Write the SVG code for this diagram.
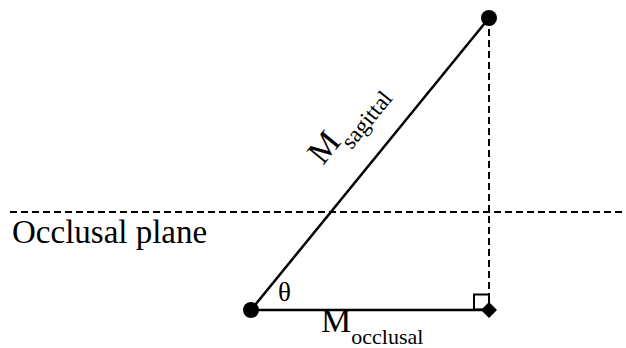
<svg xmlns="http://www.w3.org/2000/svg" width="626" height="348" viewBox="0 0 626 348">
<style>
.ln{stroke:#000;stroke-width:2.5;fill:none}
.dash{stroke:#000;stroke-width:2;fill:none;stroke-dasharray:7 4}
.t{font-family:'Liberation Serif','Times New Roman',serif;fill:#000}
</style>
<rect width="626" height="348" fill="#fff"/>
<g id="connectors">
<line class="dash" x1="10" y1="212" x2="626" y2="212"/>
<line class="dash" x1="489" y1="18" x2="489" y2="310"/>
<line class="ln" x1="251" y1="310" x2="489" y2="18"/>
<line class="ln" x1="251" y1="310" x2="489" y2="310"/>
<rect x="474" y="294.5" width="15" height="15" fill="none" stroke="#000" stroke-width="2"/>
</g>
<g id="node-origin"><circle cx="251" cy="310" r="8" fill="#000"/></g>
<g id="node-top"><circle cx="489" cy="18" r="8" fill="#000"/></g>
<g id="node-corner"><polygon points="489,302 497,310 489,318 481,310" fill="#000"/></g>
<g id="labels">
<text class="t" x="12" y="243" font-size="33">Occlusal plane</text>
<text class="t" x="278" y="301" font-size="27">θ</text>
<text class="t" x="321" y="332" font-size="34">M<tspan font-size="22" dy="12">occlusal</tspan></text>
<text class="t" font-size="34" transform="translate(323,166) rotate(-50.8)">M<tspan font-size="23" dy="12">sagittal</tspan></text>
</g>
</svg>
